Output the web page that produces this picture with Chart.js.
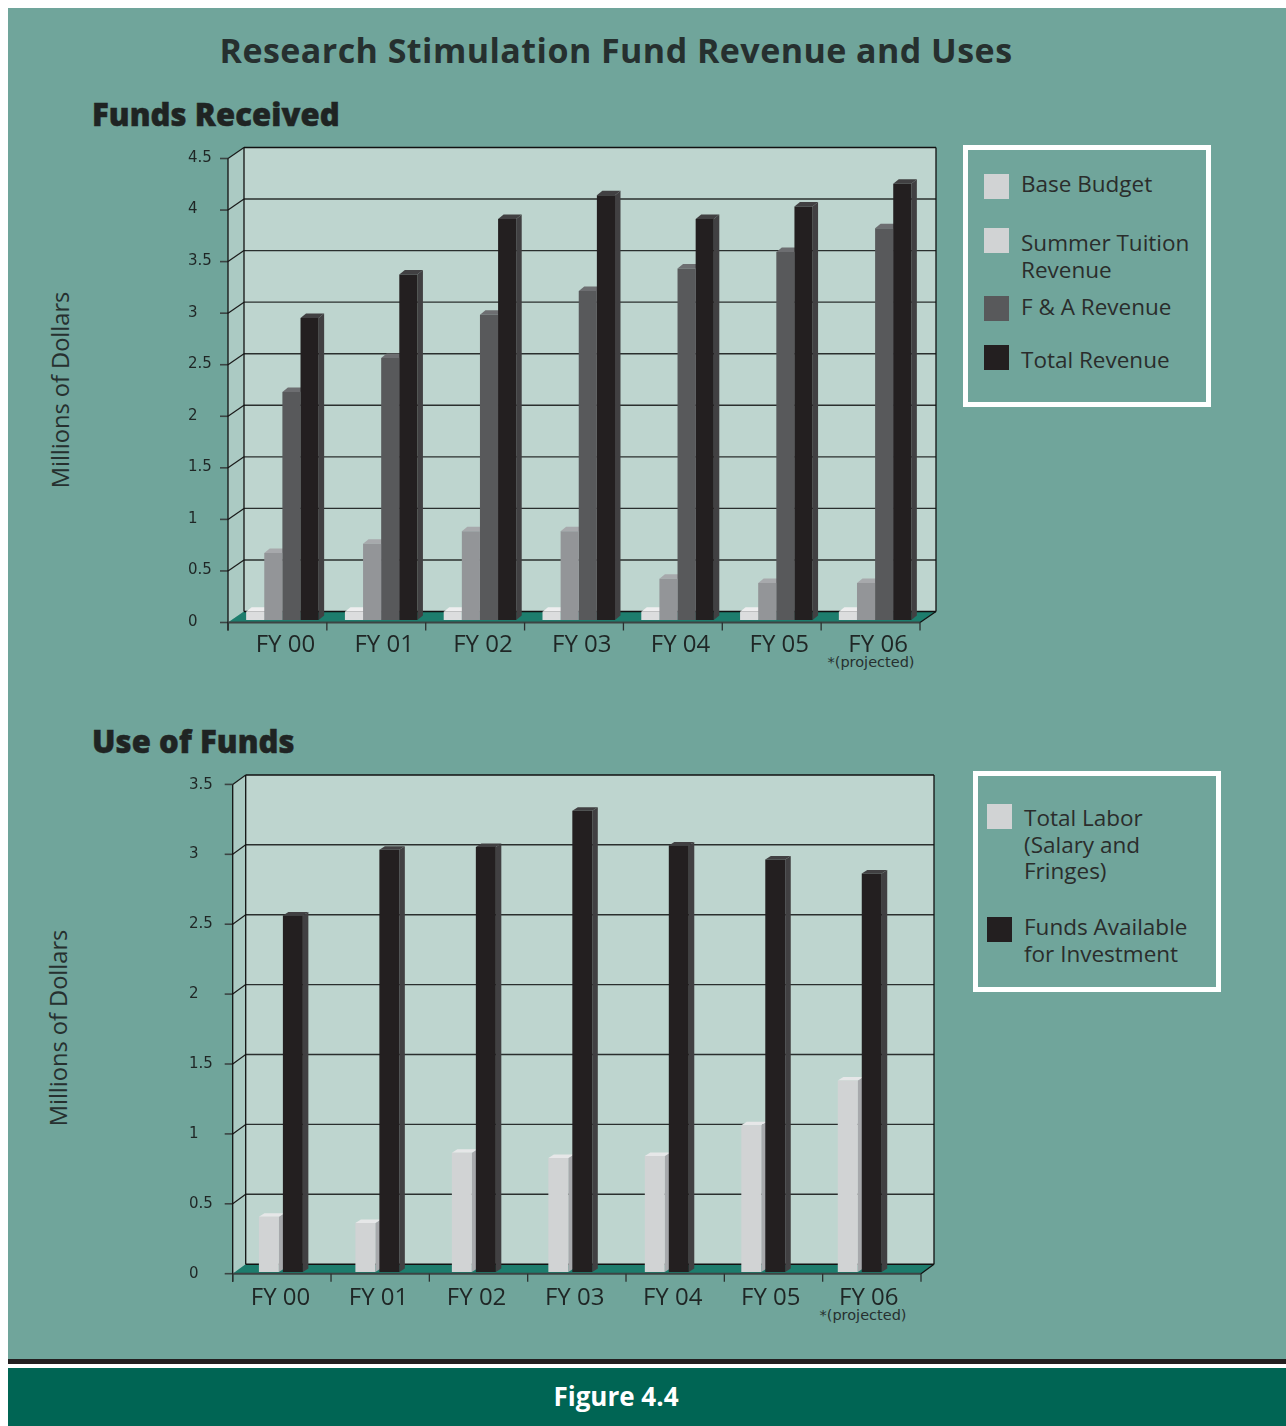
<!DOCTYPE html>
<html><head><meta charset="utf-8">
<script src="https://cdn.jsdelivr.net/npm/chart.js@4"></script>
<style>
html,body{margin:0;padding:0;background:#fff;width:1286px;height:1426px;overflow:hidden}
#panel{position:absolute;left:8px;top:8px;width:1278px;height:1352px;background:#70a59b}
#rule{position:absolute;left:8px;top:1359px;width:1278px;height:5px;background:#231f20}
#foot{position:absolute;left:8px;top:1368px;width:1278px;height:58px;background:#006554}
.t{position:absolute;white-space:nowrap;color:#26302f;font-family:"Open Sans",sans-serif;line-height:1}
.h{position:absolute;white-space:nowrap;color:#1f2423;font-family:"Open Sans",sans-serif;line-height:1;font-weight:800;font-size:31px;letter-spacing:.1px;-webkit-text-stroke:.5px #1f2423}
canvas{position:absolute}
.box{position:absolute;border:5px solid #fff;box-sizing:border-box}
.sw{position:absolute;width:25px;height:25px}
</style></head><body>
<div id="panel"></div><div id="rule"></div><div id="foot"></div>
<div class="t" style="left:616px;top:33px;transform:translateX(-50%);font-size:34px;font-weight:700;letter-spacing:.45px">Research Stimulation Fund Revenue and Uses</div>
<div class="h" style="left:92px;top:99px">Funds Received</div>
<div class="h" style="left:92px;top:726px">Use of Funds</div>
<div class="t" style="left:61px;top:390px;transform:translate(-50%,-50%) rotate(-90deg);font-size:23.6px">Millions of Dollars</div>
<div class="t" style="left:59px;top:1028px;transform:translate(-50%,-50%) rotate(-90deg);font-size:23.6px">Millions of Dollars</div>
<div class="t" style="left:871px;top:655px;transform:translateX(-50%);font-size:14.5px;font-family:'DejaVu Sans'">*(projected)</div>
<div class="t" style="left:863px;top:1308px;transform:translateX(-50%);font-size:14.5px;font-family:'DejaVu Sans'">*(projected)</div>
<div class="t" style="left:616px;top:1383px;transform:translateX(-50%);font-size:26px;font-weight:700;color:#fff">Figure 4.4</div>
<div class="box" style="left:963px;top:145px;width:248px;height:262px"></div>
<div class="box" style="left:973px;top:771px;width:248px;height:221px"></div>
<canvas id="c1"></canvas><canvas id="c2"></canvas>
<script>
const fiscalYears = ["FY 00","FY 01","FY 02","FY 03","FY 04","FY 05","FY 06"];
const baseBudget = [0.08,0.08,0.08,0.08,0.08,0.08,0.08];
const summerTuition = [0.65,0.74,0.86,0.86,0.40,0.36,0.36];
const faRevenue = [2.21,2.54,2.96,3.19,3.41,3.57,3.80];
const totalRevenue = [2.93,3.35,3.89,4.12,3.89,4.01,4.23];
const totalLabor = [0.395,0.35,0.853,0.815,0.83,1.05,1.37];
const fundsAvailable = [2.55,3.02,3.04,3.30,3.05,2.95,2.85];

const legend1 = [
 {c:"#d1d3d4",y:174,lines:[["Base Budget",172.5]]},
 {c:"#d1d3d4",y:228,lines:[["Summer Tuition",231.5],["Revenue",258.5]]},
 {c:"#58595b",y:296,lines:[["F & A Revenue",295.5]]},
 {c:"#231f20",y:345,lines:[["Total Revenue",348.5]]}];
const legend2 = [
 {c:"#d1d3d4",y:804,lines:[["Total Labor",806.5],["(Salary and",833.5],["Fringes)",859.5]]},
 {c:"#231f20",y:917,lines:[["Funds Available",915.5],["for Investment",942.5]]}];
function addLegend(items,sx,tx){
  items.forEach(it=>{
    const s=document.createElement('div');s.className='sw';
    s.style.cssText=`left:${sx}px;top:${it.y}px;background:${it.c}`;document.body.appendChild(s);
    it.lines.forEach(([txt,y])=>{
      const d=document.createElement('div');d.className='t';d.textContent=txt;
      d.style.cssText=`left:${tx}px;top:${y}px;font-size:22.5px;color:#2a2d2c`;document.body.appendChild(d);
    });
  });
}
addLegend(legend1,984,1021);addLegend(legend2,987,1024);

const depthPlugin={id:'depth',
 beforeDatasetsDraw(chart,_,o){
  const ctx=chart.ctx,y=chart.scales.y,F=o;
  const X=p=>p-F.ox,Yf=v=>y.getPixelForValue(v)+F.front;
  const max=y.max,y0=Yf(0),yT=Yf(max),x0=X(F.x0),x1=X(F.x1),bx=F.bx,by=F.by;
  const poly=(pts,fill)=>{ctx.beginPath();pts.forEach((p,i)=>i?ctx.lineTo(p[0],p[1]):ctx.moveTo(p[0],p[1]));ctx.closePath();ctx.fillStyle=fill;ctx.fill();};
  const line=(a,b,c,d,col,w)=>{ctx.beginPath();ctx.moveTo(a,b);ctx.lineTo(c,d);ctx.strokeStyle=col;ctx.lineWidth=w;ctx.stroke();};
  ctx.save();
  poly([[x0+bx,yT+by],[x1+bx,yT+by],[x1+bx,y0+by],[x0+bx,y0+by]],'#bed5cf');
  poly([[x0,yT],[x0+bx,yT+by],[x0+bx,y0+by],[x0,y0]],'#abcac3');
  poly([[x0,y0],[x1,y0],[x1+bx,y0+by],[x0+bx,y0+by]],'#1d7d6d');
  y.ticks.forEach(t=>{
    const py=Yf(t.value);
    if(t.value>0 && t.value<max) line(x0+bx,py+by,x1+bx,py+by,'#2a2f2e',1.4);
    if(t.value>0) line(x0,py,x0+bx,py+by,'#1a1a1a',1.2);
    line(x0-8,py,x0,py,'#3c4443',1.6);
  });
  line(x0+bx,yT+by,x1+bx,yT+by,'#111',1.5);
  line(x0+bx,y0+by,x1+bx,y0+by,'#111',1.5);
  line(x0+bx,yT+by,x0+bx,y0+by,'#111',1.3);
  line(x1+bx,yT+by,x1+bx,y0+by,'#111',1.3);
  line(x0,yT,x0,y0+8,'#111',1.3);
  line(x0,y0,x1,y0,'#3c4443',2);
  line(x1,y0,x1+bx,y0+by,'#111',1.2);
  const n=fiscalYears.length;
  for(let i=0;i<=n;i++){const px=x0+(x1-x0)*i/n;line(px,y0,px,y0+8,'#2a2f2e',1.3);}
  chart.data.datasets.forEach((ds,di)=>{
    chart.getDatasetMeta(di).data.forEach(b=>{
      const l=b.x-b.width/2,r=b.x+b.width/2,t=b.y,bt=b.base;
      poly([[r,t],[r+F.dx,t-F.dy],[r+F.dx,bt-F.dy],[r,bt]],ds.sideColor);
      poly([[l,t],[l+F.dx,t-F.dy],[r+F.dx,t-F.dy],[r,t]],ds.topColor);
    });
  });
  ctx.restore();
 }};
Chart.register(depthPlugin);

function makeChart(id,cfg){
  const el=document.getElementById(id);
  el.style.left=cfg.left+'px';el.style.top=cfg.top+'px';
  const tickStyle={color:'#1f2625',padding:cfg.xPad,maxRotation:0,autoSkip:false,font:{family:'Open Sans',size:24}};
  const scales={
     x:cfg.labelAxis?{display:false}:{grid:{display:false},border:{display:false},
        afterFit:s=>{s.height=cfg.xH;},
        ticks:{...tickStyle,labelOffset:cfg.labelOff}},
     y:{min:0,max:cfg.max,grid:{display:false},border:{display:false},
        afterFit:s=>{s.width=cfg.yW;},
        ticks:{stepSize:.5,crossAlign:'far',color:'#1f2625',padding:0,labelOffset:2,font:{family:'DejaVu Sans',size:15},
               callback:v=>String(v)}}
  };
  if(cfg.labelAxis){
    scales.xl={type:'linear',position:'bottom',offset:false,bounds:'data',min:cfg.labelAxis[0],max:cfg.labelAxis[1],
      grid:{display:false},border:{display:false},afterFit:s=>{s.height=cfg.xH;},
      afterBuildTicks:s=>{s.ticks=fiscalYears.map((_,i)=>({value:i}));},
      ticks:{...tickStyle,callback:v=>fiscalYears[v]||''}};
  }
  new Chart(el,{type:'bar',
   data:{labels:fiscalYears,datasets:cfg.datasets},
   options:{responsive:false,animation:false,devicePixelRatio:1,
    layout:{padding:{left:cfg.padL,right:cfg.padR,top:cfg.padT,bottom:0}},
    plugins:{legend:{display:false},tooltip:{enabled:false},title:{display:false},depth:cfg.frame},
    datasets:{bar:{categoryPercentage:cfg.catPct,barPercentage:cfg.barPct,borderWidth:0}},
    scales}});
}
document.getElementById('c1').width=960;document.getElementById('c1').height=560;
document.getElementById('c2').width=960;document.getElementById('c2').height=580;

makeChart('c1',{left:8,top:130,padL:180,yW:45,padR:43.5,padT:26,xH:70,xPad:3,labelOff:3,max:4.5,
  catPct:.734,barPct:1,
  frame:{ox:8,x0:228,x1:920,front:2.5,bx:16,by:-11,dx:5.5,dy:4.5},
  datasets:[
   {label:"Base Budget",data:baseBudget,backgroundColor:'#dcddde',sideColor:'#a7a9ac',topColor:'#eeeeef'},
   {label:"Summer Tuition Revenue",data:summerTuition,backgroundColor:'#939598',sideColor:'#808285',topColor:'#a7a9ac'},
   {label:"F & A Revenue",data:faRevenue,backgroundColor:'#58595b',sideColor:'#414042',topColor:'#6d6e71'},
   {label:"Total Revenue",data:totalRevenue,backgroundColor:'#231f20',sideColor:'#414042',topColor:'#414042'}]});

makeChart('c2',{left:8,top:760,padL:181,yW:43.65,padR:60,padT:22.7,xH:68,xPad:4,labelAxis:[-0.488,6.4],max:3.5,
  catPct:.497,barPct:.833,
  frame:{ox:8,x0:232.7,x1:921,front:1.7,bx:13,by:-9.5,dx:5.5,dy:3.5},
  datasets:[
   {label:"Total Labor (Salary and Fringes)",data:totalLabor,backgroundColor:'#d1d3d4',sideColor:'#a7a9ac',topColor:'#e6e7e8'},
   {label:"Funds Available for Investment",data:fundsAvailable,backgroundColor:'#231f20',sideColor:'#414042',topColor:'#414042'}]});
</script>
</body></html>
